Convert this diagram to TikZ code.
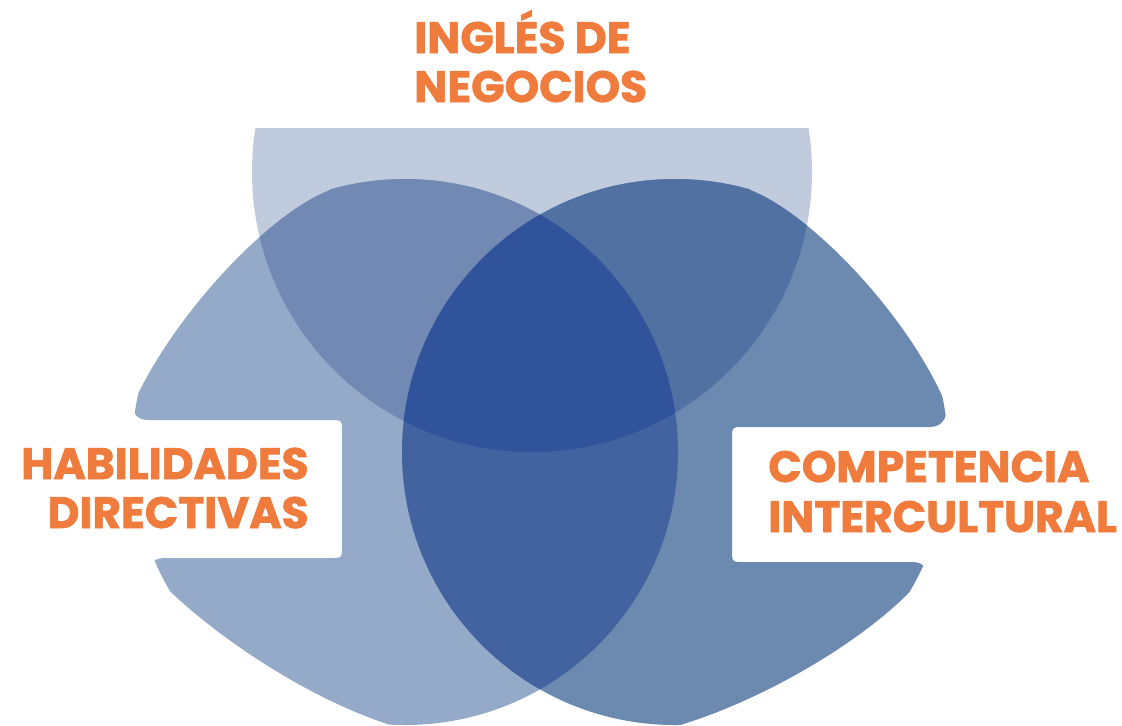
\documentclass[tikz,border=0pt]{standalone}
\usepackage{fontspec}
\newfontfamily\lblfont{Poppins}[BoldFeatures={FakeBold=1.6}]
\definecolor{cT}{HTML}{C0CCDE}
\definecolor{cL}{HTML}{94AAC8}
\definecolor{cR}{HTML}{6C89B0}
\definecolor{cTL}{HTML}{7189B3}
\definecolor{cTR}{HTML}{5071A2}
\definecolor{cLR}{HTML}{4263A0}
\definecolor{cTLR}{HTML}{31539B}
\definecolor{orangeT}{HTML}{EF7B3D}
\def\topCirc{(532,172) circle[radius=280]}
\def\topBand{(0,128) rectangle (1122,760)}
\def\leftCirc{(405,452) circle[radius=273]}
\def\rightCirc{(675,452) circle[radius=273]}
\def\leftCut{(1200,100) -- (330,100) -- (330,190) .. controls (270,213) and (178,310) .. (136,398) .. controls (130,410) and (135,420) .. (148,420) -- (330,420) .. controls (342,420) .. (342,432) -- (342,546) .. controls (342,558) .. (330,558) -- (165,558) .. controls (152,558) and (147,566) .. (155,576) .. controls (202,627) and (305,700) .. (400,728) -- (400,800) -- (1200,800) -- cycle}
\def\rightCut{(-100,100) -- (750,100) -- (750,190) .. controls (810,213) and (905,312) .. (944,400) .. controls (950,414) and (944,427) .. (930,427) -- (744,427) .. controls (732,427) .. (732,439) -- (732,550) .. controls (732,562) .. (744,562) -- (912,562) .. controls (925,562) and (928,570) .. (922,578) .. controls (880,630) and (770,700) .. (670,728) -- (670,800) -- (-100,800) -- cycle}
\tikzset{lbl/.style={text=orangeT, font=\lblfont\bfseries\fontsize{25}{29}\selectfont, inner sep=0pt}}
\begin{document}
\begin{tikzpicture}[x={(0.02cm,0)}, y={(0,-0.02cm)}]
\useasboundingbox (0,0) rectangle (1122,725);
\begin{scope}
  \clip (0,0) rectangle (1122,725);
  % single regions
  \begin{scope}\clip \topBand; \fill[cT] \topCirc; \end{scope}
  \begin{scope}\clip \leftCut; \fill[cL] \leftCirc; \end{scope}
  \begin{scope}\clip \rightCut; \fill[cR] \rightCirc; \end{scope}
  % top & left
  \begin{scope}\clip \topBand; \clip \topCirc; \clip \leftCut; \fill[cTL] \leftCirc; \end{scope}
  % top & right
  \begin{scope}\clip \topBand; \clip \topCirc; \clip \rightCut; \fill[cTR] \rightCirc; \end{scope}
  % left & right
  \begin{scope}\clip \leftCut; \clip \leftCirc; \clip \rightCut; \fill[cLR] \rightCirc; \end{scope}
  % all three
  \begin{scope}\clip \topBand; \clip \topCirc; \clip \leftCut; \clip \leftCirc; \clip \rightCut; \fill[cTLR] \rightCirc; \end{scope}
\end{scope}
\node[lbl, anchor=base west] (ing1) at (414,53) {INGLÉS DE};
\node[lbl, anchor=base west] (ing2) at (414,102) {NEGOCIOS};
\node[lbl, anchor=base east] (hab1) at (309,479) {HABILIDADES};
\node[lbl, anchor=base east] (hab2) at (309,528) {DIRECTIVAS};
\node[lbl, anchor=base west] (com1) at (768,482) {COMPETENCIA};
\node[lbl, anchor=base west] (com2) at (768,532) {INTERCULTURAL};
\end{tikzpicture}
\end{document}
